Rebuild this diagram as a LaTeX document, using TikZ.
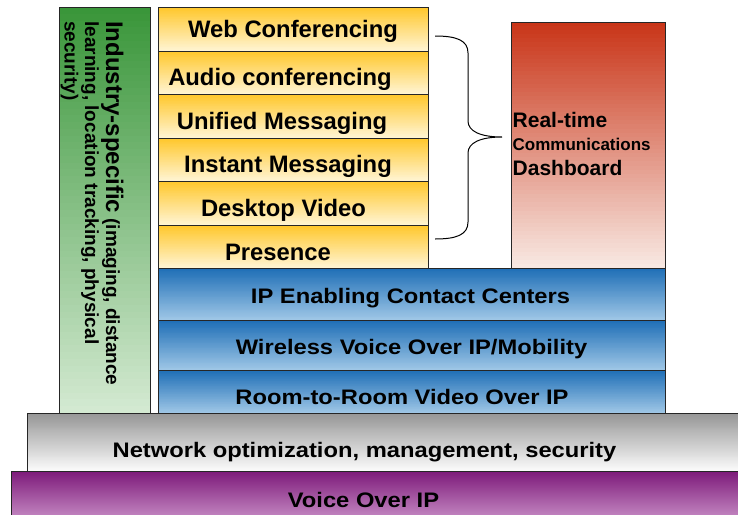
\documentclass[tikz,border=0pt]{standalone}
\usepackage{fontspec}
\setmainfont{Liberation Sans}
\newfontfamily\widefont[FakeStretch=1.13]{Liberation Sans}
\usetikzlibrary{calc}
\definecolor{yTop}{HTML}{FFC72A}
\definecolor{yBot}{HTML}{FFF4D2}
\definecolor{rTop}{HTML}{C93518}
\definecolor{rBot}{HTML}{F8E8E2}
\definecolor{gTop}{HTML}{3A963A}
\definecolor{gBot}{HTML}{D3E9D1}
\definecolor{bTop}{HTML}{1E6EB6}
\definecolor{bBot}{HTML}{9EC6E6}
\definecolor{kTop}{HTML}{969696}
\definecolor{kBot}{HTML}{FAFAFA}
\definecolor{pTop}{HTML}{7D1A7A}
\definecolor{pBot}{HTML}{D6A4D4}
\tikzset{
  box/.style={draw=black!85, line width=0.8pt, anchor=north west, inner sep=0pt, outer sep=0pt},
  grad/.style 2 args={path picture={
    \foreach \i in {0,...,59}{
      \pgfmathsetmacro\pct{100-100*\i/59}
      \fill[#1!\pct!#2]
        ($(path picture bounding box.north west)!\i/60!(path picture bounding box.south west)$)
        rectangle
        ($(path picture bounding box.north east)!{(\i+1.2)/60}!(path picture bounding box.south east)$);
    }}},
  ybox/.style={box, grad={yTop}{yBot}, minimum width=270pt},
  bbox/.style={box, grad={bTop}{bBot}, minimum width=507pt},
  ylbl/.style={font=\bfseries\fontsize{23.8}{26}\selectfont, anchor=base, inner sep=0pt},
  wlbl/.style={font=\widefont\bfseries\fontsize{21}{24}\selectfont, anchor=base, inner sep=0pt},
  rlbl/.style={font=\bfseries\fontsize{21}{24}\selectfont, anchor=base west, inner sep=0pt},
  glbl/.style={font=\bfseries\fontsize{19}{21}\selectfont, anchor=base west, inner sep=0pt, rotate=-90},
  bracepath/.style={draw=black, line width=1pt},
}
\begin{document}
\begin{tikzpicture}[x=1pt,y=-1pt]
\clip (0,0) rectangle (738,514);
\fill[white] (0,0) rectangle (738,514);
% base layers
\node[box, grad={pTop}{pBot}, minimum width=760pt, minimum height=60pt] (voip) at (11,471) {};
\node[box, grad={kTop}{kBot}, minimum width=740pt, minimum height=58pt] (net) at (27,413) {};
% green column
\node[box, grad={gTop}{gBot}, minimum width=91pt, minimum height=406pt] (ind) at (59,7) {};
% blue rows
\node[bbox, minimum height=52pt] (ipcc) at (158,268) {};
\node[bbox, minimum height=50pt] (wifi) at (158,320) {};
\node[bbox, minimum height=43pt] (room) at (158,370) {};
% yellow rows
\node[ybox, minimum height=44pt] (web) at (158,7) {};
\node[ybox, minimum height=43pt] (audio) at (158,51) {};
\node[ybox, minimum height=44pt] (um) at (158,94) {};
\node[ybox, minimum height=43pt] (im) at (158,138) {};
\node[ybox, minimum height=44pt] (dv) at (158,181) {};
\node[ybox, minimum height=43pt] (pres) at (158,225) {};
% red dashboard
\node[box, grad={rTop}{rBot}, minimum width=154pt, minimum height=246pt] (dash) at (511,22) {};
% labels
\node[ylbl] (tweb) at (293,37.7) {Web Conferencing};
\node[ylbl] (taudio) at (280,85) {Audio conferencing};
\node[ylbl] (tum) at (282,129) {Unified Messaging};
\node[ylbl] (tim) at (288,172.5) {Instant Messaging};
\node[ylbl] (tdv) at (283.5,216) {Desktop Video};
\node[ylbl] (tpres) at (278,260) {Presence};
\node[wlbl] (tipcc) at (410.5,303) {IP Enabling Contact Centers};
\node[wlbl] (twifi) at (411.5,354) {Wireless Voice Over IP/Mobility};
\node[wlbl] (troom) at (402,404) {Room-to-Room Video Over IP};
\node[wlbl] (tnet) at (364.5,457) {Network optimization, management, security};
\node[wlbl] (tvoip) at (363.5,507) {Voice Over IP};
\node[rlbl] (tdash1) at (512.5,127) {Real-time};
\node[rlbl, font=\bfseries\fontsize{17}{20}\selectfont] (tdash2) at (512.5,150) {Communications};
\node[rlbl] (tdash3) at (512.5,175) {Dashboard};
\node[glbl] (ind1) at (106,21) {{\fontsize{24}{24}\selectfont Industry-specific} (imaging, distance};
\node[glbl] (ind2) at (85,21) {learning, location tracking, physical};
\node[glbl] (ind3) at (64.5,21) {security)};
% brace
\coordinate (bt) at (435,36);
\coordinate (bm) at (502,137);
\coordinate (bb) at (435,239);
\draw[bracepath] (bt) .. controls (456,36) and (468,40) .. (468,53) -- (468,121)
  .. controls (468,131) and (480,137) .. (bm)
  .. controls (480,137) and (468,143) .. (468,153) -- (468,222)
  .. controls (468,235) and (456,239) .. (bb);
\end{tikzpicture}
\end{document}
